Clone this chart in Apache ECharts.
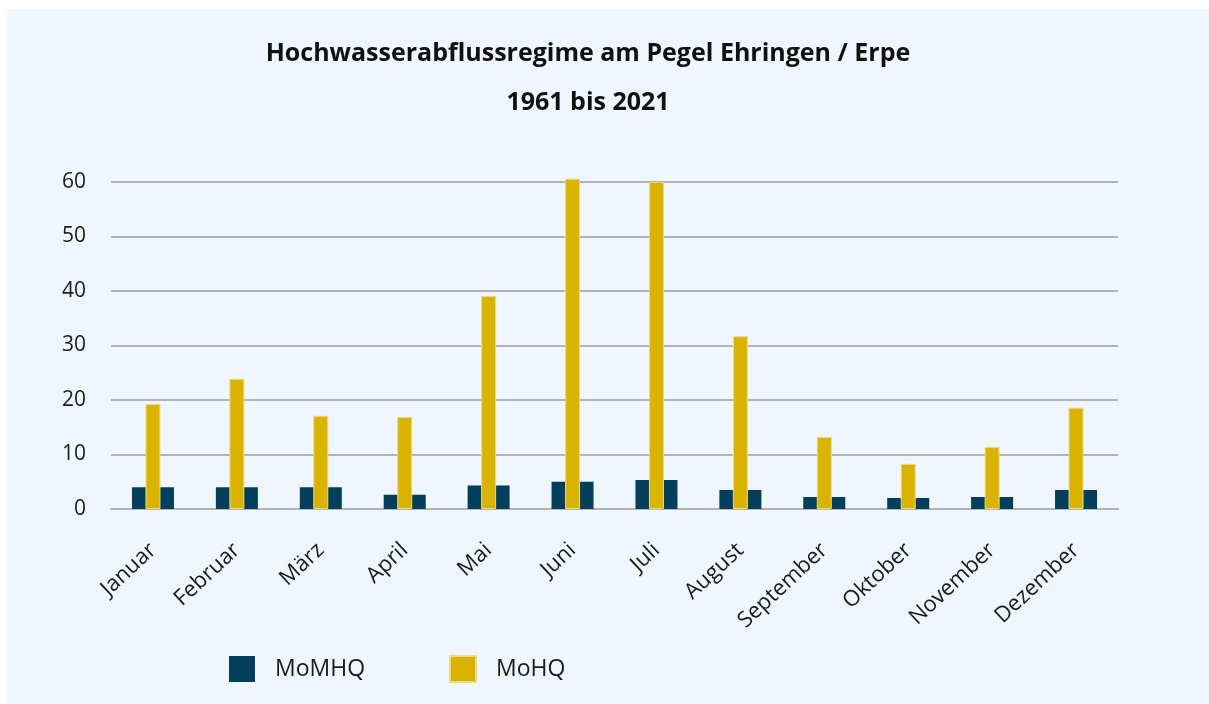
<!DOCTYPE html>
<html><head><meta charset="utf-8">
<script src="https://cdn.jsdelivr.net/npm/echarts@6/dist/echarts.min.js"></script>
<style>
html,body{margin:0;padding:0;background:#fff;width:1209px;height:704px;overflow:hidden;}
#c{position:absolute;left:7px;top:9px;width:1202px;height:695px;background:#eff6fd;}
</style></head>
<body><div id="c"></div>
<script>
const categories = ["Januar","Februar","März","April","Mai","Juni","Juli","August","September","Oktober","November","Dezember"];
const momhq = [4.0, 4.0, 4.0, 2.6, 4.3, 5.0, 5.3, 3.5, 2.2, 2.0, 2.2, 3.5];
const mohq = [19.3, 23.9, 17.1, 16.9, 39.1, 60.6, 60.0, 31.7, 13.2, 8.3, 11.4, 18.6];
const titleLines = ["Hochwasserabflussregime am Pegel Ehringen / Erpe", "1961 bis 2021"];

const chart = echarts.init(document.getElementById('c'));
const font = '"Open Sans", Lato, sans-serif';
chart.setOption({
  animation: false,
  textStyle: {fontFamily: font},
  title: {
    text: titleLines.join('\n'),
    left: 581, top: 20, textAlign: 'center', padding: 0,
    textStyle: {fontFamily: font, fontSize: 25, fontWeight: 'bold', color: '#111', lineHeight: 49}
  },
  grid: {left: 104, right: 91, top: 173, bottom: 195, containLabel: false},
  legend: {
    left: 222, top: 646, itemWidth: 26, itemHeight: 26, itemGap: 84, padding: 0,
    icon: 'rect',
    textStyle: {fontFamily: font, fontSize: 23, color: '#1a1a1a', padding: [0,0,0,15]},
    data: ['MoMHQ', 'MoHQ']
  },
  xAxis: [{
    type: 'category', data: categories,
    axisLine: {lineStyle: {color: '#b3b3b3', width: 2}},
    axisTick: {length: 10, lineStyle: {color: '#b3b3b3', width: 2}},
    axisLabel: {rotate: 43, fontSize: 22, color: '#1a1a1a', margin: 38, interval: 0, fontFamily: font, padding: [22,0,0,0]}
  }, {
    type: 'category', data: categories, show: false
  }],
  yAxis: {
    type: 'value', min: 0, max: 60, interval: 10,
    axisLine: {show: false}, axisTick: {show: false},
    splitLine: {lineStyle: {color: '#b3b3b3', width: 2}},
    axisLabel: {fontSize: 21, color: '#1a1a1a', margin: 25, fontFamily: font}
  },
  series: [{
    name: 'MoMHQ', type: 'bar', xAxisIndex: 0, data: momhq, barWidth: 42,
    itemStyle: {color: '#033f5c'}
  }, {
    name: 'MoHQ', type: 'bar', xAxisIndex: 1, data: mohq, barWidth: 15, clip: false,
    itemStyle: {color: '#d8b400', borderColor: '#eadb85', borderWidth: 1}
  }]
});
</script></body></html>
